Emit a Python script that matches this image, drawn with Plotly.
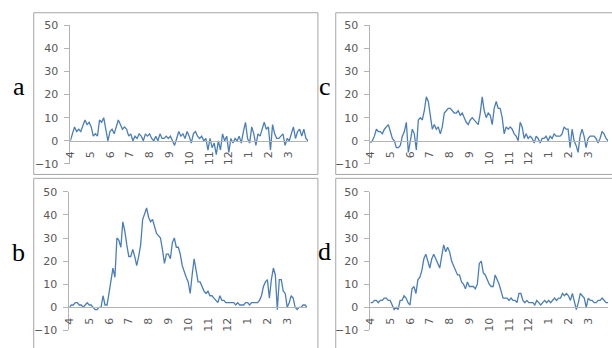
import numpy as np
import plotly.graph_objects as go

W, H = 612, 348

months = ["4", "5", "6", "7", "8", "9", "10", "11", "12", "1", "2", "3"]

series_a = [0, 3, 6, 4, 5, 4, 7, 9, 7, 8,
            6, 2, 3, 2, 9, 8, 10, 5, 0, 4,
            5, 3, 6, 9, 7, 5, 6, 5, 2, 3,
            0, 2, 1, 3, 2, 0, 3, 2, 3, 1,
            0, 2, 0, 3, 1, 1, 2, 1, 2, 0,
            -2, 1, 4, 2, 3, 1, 4, 2, -1, 3,
            4, 2, 1, 2, 0, 1, -4, 1, -3, -1,
            -6, 0, -4, 3, 0, 2, -5, 1, -1, 1,
            0, 2, -1, 4, 8, 1, -1, 6, 3, -2,
            3, 2, 5, 8, 5, 6, -4, 7, 3, 1,
            1, 2, 3, -2, 1, 0, 3, 6, 1, 4,
            5, 2, 5, 1, 0]

series_c = [-1, 0, 2, 5, 4, 4, 3, 5, 6, 7,
            4, 1, 0, -3, -3, -2, 2, 4, 8, -5,
            0, 5, 3, -4, 9, 10, 9, 13, 19, 17,
            11, 5, 7, 5, 6, 3, 6, 12, 13, 14,
            14, 13, 12, 12, 13, 11, 12, 10, 8, 7,
            9, 10, 9, 8, 7, 12, 19, 13, 10, 12,
            11, 7, 14, 17, 14, 14, 10, 3, 6, 5,
            6, 5, 3, 2, 0, 8, 6, 1, 3, 1,
            2, 1, -1, 2, 1, -1, 1, 1, 2, 0,
            2, 1, 3, 2, 2, 2, 3, 6, 5, 5,
            -3, 5, 0, -2, -5, 2, 5, 2, -3, 1,
            2, 2, 2, 1, -1, 1, 4, 3, 1, 0]

series_b = [0, 1, 1, 2, 2, 1, 1, 0, 1, 2,
            1, 1, 0, -1, -1, 0, 0, 5, 1, 1,
            6, 11, 17, 13, 30, 29, 26, 37, 33, 27,
            22, 22, 25, 22, 18, 22, 27, 38, 41, 43,
            39, 37, 38, 35, 32, 31, 30, 25, 19, 23,
            23, 21, 28, 30, 26, 26, 23, 18, 15, 13,
            11, 6, 14, 21, 16, 11, 11, 9, 7, 6,
            7, 5, 5, 4, 3, 2, 5, 3, 3, 2,
            2, 2, 2, 2, 1, 2, 1, 1, 1, 2,
            2, 1, 2, 2, 2, 2, 3, 5, 9, 11,
            12, 4, 12, 17, 14, -1, 12, 12, 7, 6,
            0, 2, 5, 4, 0, -1, 0, 0, 1, 1,
            0]

series_d = [2, 2, 3, 3, 2, 3, 3, 4, 4, 3,
            3, 1, -1, 0, -1, 3, 3, 5, 4, 2,
            1, 8, 9, 6, 12, 13, 16, 21, 23, 20,
            17, 21, 23, 21, 19, 17, 22, 27, 24, 26,
            24, 20, 18, 16, 14, 14, 11, 10, 8, 11,
            9, 9, 9, 8, 10, 19, 20, 15, 14, 12,
            10, 9, 9, 14, 12, 10, 7, 4, 4, 4,
            3, 4, 3, 3, 2, 6, 6, 3, 2, 3,
            2, 2, 2, 1, 3, 2, 1, 2, 3, 2,
            3, 2, 3, 4, 3, 4, 4, 6, 5, 6,
            5, 3, 6, 3, -1, 2, 6, 5, 4, 0,
            4, 3, 3, 2, 2, 3, 3, 4, 3, 2,
            2]

panel_labels = ["a", "c", "b", "d"]
panel_series = [series_a, series_c, series_b, series_d]

# layout geometry in pixels: plot area (x0, x1, ytop, ybottom), border box, letter position
plot_px = [(65, 305, 20, 164), (368, 608, 20, 164), (64, 304, 193, 337), (368, 608, 193, 337)]
box_px = [(28, 315, 7, 175), (333, 640, 7, 175), (28, 315, 179, 380), (333, 640, 179, 380)]
letter_px = [(13, 84), (322, 84), (13, 256), (322, 255)]

LINE = "#4a7ebb"
AX = "#b3b3b3"
TXT = "#595959"

fig = go.Figure()
layout = dict(width=W, height=H, autosize=False, margin=dict(l=0, r=0, t=0, b=0, pad=0),
              paper_bgcolor="white", plot_bgcolor="white", showlegend=False,
              shapes=[], annotations=[])

ymin, ymax = -10, 50
for k in range(4):
    vals = panel_series[k]
    xs = np.linspace(0, 12, len(vals))
    n = "" if k == 0 else str(k + 1)
    fig.add_trace(go.Scatter(x=xs, y=vals, mode="lines",
                             line=dict(color=LINE, width=1.3),
                             xaxis="x" + n, yaxis="y" + n, hoverinfo="skip"))
    x0, x1, yt, yb = plot_px[k]
    ydom = [1 - yb / H, 1 - yt / H]
    zero_pos = ydom[0] + (ydom[1] - ydom[0]) * (0 - ymin) / (ymax - ymin)
    layout["xaxis" + n] = dict(domain=[x0 / W, x1 / W], range=[0, 12],
                               anchor="free", position=zero_pos,
                               tickmode="array", tickvals=list(range(12)), ticktext=months,
                               tickangle=-90, ticks="", showline=True, linecolor=AX,
                               linewidth=1, showgrid=False, zeroline=False,
                               ticklabelstandoff=5,
                               tickfont=dict(family="DejaVu Sans", size=11, color=TXT))
    layout["yaxis" + n] = dict(domain=ydom, range=[ymin, ymax], anchor="x" + n,
                               tick0=0, dtick=10, ticks="outside", ticklen=5,
                               tickcolor=AX, showline=True, linecolor=AX, linewidth=1,
                               showgrid=False, zeroline=False, ticklabelstandoff=4,
                               tickfont=dict(family="DejaVu Sans", size=11, color=TXT))
    bx0, bx1, by0, by1 = box_px[k]
    layout["shapes"].append(dict(type="rect", xref="paper", yref="paper",
                                 x0=bx0 / W, x1=bx1 / W, y0=1 - by1 / H, y1=1 - by0 / H,
                                 line=dict(color="#a6a6a6", width=1), layer="below"))
    lx, ly = letter_px[k]
    layout["annotations"].append(dict(text=panel_labels[k], xref="paper", yref="paper",
                                      x=lx / W, y=1 - ly / H, xanchor="center", yanchor="middle",
                                      showarrow=False,
                                      font=dict(family="Liberation Serif", size=26, color="black")))

fig.update_layout(**layout)
fig.write_html("out.html", config={"displayModeBar": False, "staticPlot": True},
               post_script="document.body.style.margin='0';document.body.style.overflow='hidden';")
